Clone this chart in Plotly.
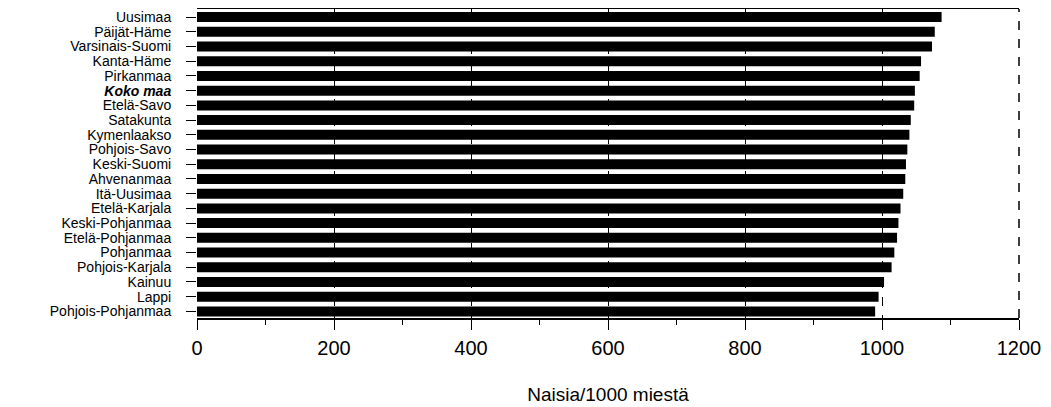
import plotly.graph_objects as go

regions = ["Uusimaa", "Päijät-Häme", "Varsinais-Suomi", "Kanta-Häme", "Pirkanmaa",
           "Koko maa", "Etelä-Savo", "Satakunta", "Kymenlaakso", "Pohjois-Savo",
           "Keski-Suomi", "Ahvenanmaa", "Itä-Uusimaa", "Etelä-Karjala",
           "Keski-Pohjanmaa", "Etelä-Pohjanmaa", "Pohjanmaa", "Pohjois-Karjala",
           "Kainuu", "Lappi", "Pohjois-Pohjanmaa"]
values = [1087, 1077, 1073, 1057, 1055,
          1048, 1047, 1042, 1040, 1037,
          1035, 1034, 1031, 1027,
          1024, 1022, 1018, 1014,
          1003, 995, 990]
tick_labels = ["<b><i>%s</i></b>" % r if r == "Koko maa" else r for r in regions]
x_ticks = [0, 200, 400, 600, 800, 1000, 1200]
x_title = "Naisia/1000 miestä"

fig = go.Figure(go.Bar(
    x=values, y=regions, orientation="h",
    marker=dict(color="black", line=dict(width=0)),
))

fig.update_layout(
    width=1043, height=399,
    margin=dict(l=189, r=32, t=1, b=89, autoexpand=False),
    paper_bgcolor="white", plot_bgcolor="white",
    font=dict(family="Liberation Sans, Arial, sans-serif", color="black"),
    bargap=0.32,
    showlegend=False,
    shapes=[dict(type="line", xref="paper", yref="paper", x0=1, x1=1, y0=0, y1=1,
                 line=dict(color="black", width=1.5, dash="dash"), layer="above")],
)
fig.update_xaxes(
    range=[0, 1200], tickvals=x_ticks, ticktext=[str(v) for v in x_ticks],
    showgrid=True, gridcolor="black", gridwidth=1, griddash="dash",
    showline=True, linecolor="black", linewidth=1.5, mirror=True,
    ticks="outside", ticklen=10, tickcolor="black",
    minor=dict(dtick=100, ticks="outside", ticklen=5, tickcolor="black", showgrid=False),
    tickfont=dict(size=20), ticklabelstandoff=1,
    zeroline=False,
    title=dict(text=x_title, font=dict(size=19), standoff=30),
    automargin=False,
)
fig.update_yaxes(
    categoryorder="array", categoryarray=regions,
    tickvals=regions, ticktext=tick_labels,
    range=[20.45, -0.55],
    showgrid=False, showline=False, zeroline=False,
    ticks="outside", ticklen=10, tickcolor="black",
    tickfont=dict(size=14), ticklabelstandoff=12,
    automargin=False,
)

fig.write_html("out.html")
